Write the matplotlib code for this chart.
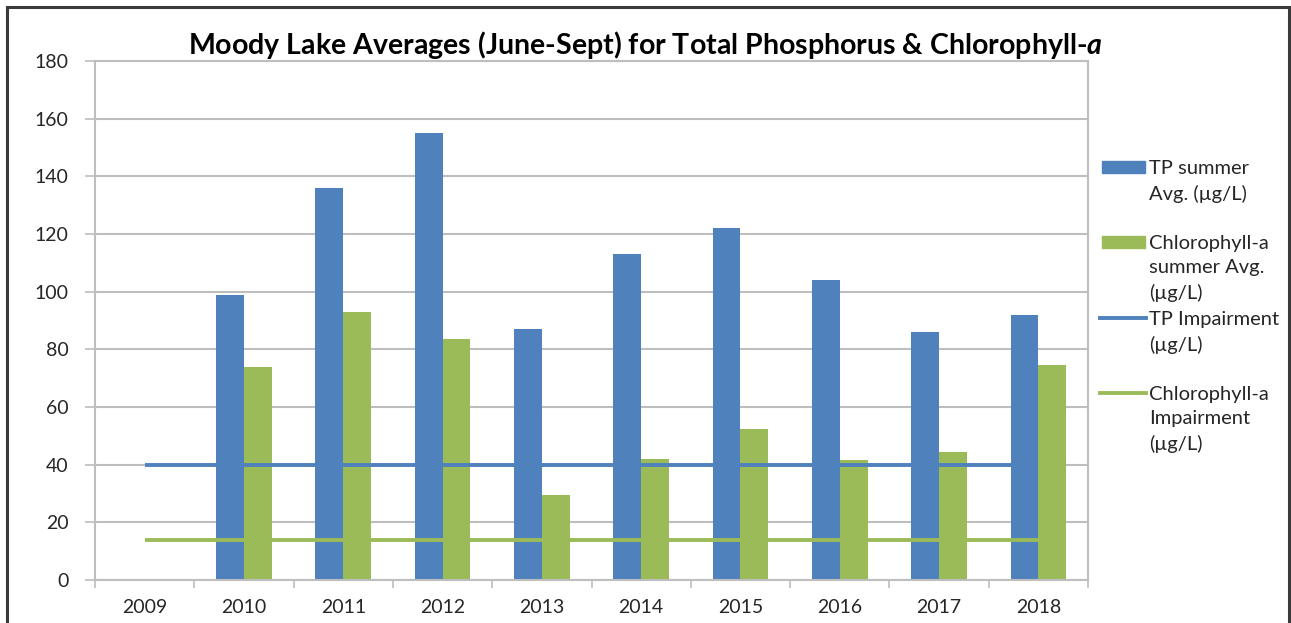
import matplotlib
matplotlib.use('Agg')
import matplotlib.pyplot as plt
import numpy as np
from matplotlib.patches import Rectangle
from matplotlib.lines import Line2D

plt.rcParams['font.family'] = ['Lato', 'DejaVu Sans']
plt.rcParams['mathtext.fontset'] = 'custom'
plt.rcParams['mathtext.it'] = 'Lato:italic:bold'
plt.rcParams['mathtext.rm'] = 'Lato:bold'

# data
years = ['2009', '2010', '2011', '2012', '2013', '2014', '2015', '2016', '2017', '2018']
tp_avg = [np.nan, 99, 136, 155, 87, 113, 122, 104, 86, 92]
chl_avg = [np.nan, 74, 93, 83.5, 29.5, 42, 52.5, 41.5, 44.5, 74.5]
tp_impair = [40] * 10
chl_impair = [14] * 10

blue = '#4F81BD'
green = '#9BBB59'
grid_c = '#BEBEBE'

W, H = 1291, 623
fig = plt.figure(figsize=(W / 100, H / 100), dpi=100)
ax = fig.add_axes([95 / W, 1 - 580 / H, (1088 - 95) / W, (580 - 61) / H])

x = np.arange(len(years))
bw = 0.28
ax.bar(x - bw / 2, tp_avg, bw, color=blue, zorder=2)
ax.bar(x + bw / 2, chl_avg, bw, color=green, zorder=2)
ax.plot(x, tp_impair, color=blue, lw=2.8, zorder=3, solid_capstyle='butt')
ax.plot(x, chl_impair, color=green, lw=2.8, zorder=3, solid_capstyle='butt')

ax.set_xlim(-0.5, len(years) - 0.5)
ax.set_ylim(0, 180)
ax.set_yticks(np.arange(0, 181, 20))
ax.set_xticks(x)
ax.set_xticklabels(years)
ax.set_xticks(np.arange(-0.5, len(years), 1), minor=True)
ax.tick_params(axis='x', which='major', length=0, pad=14, labelsize=14, colors='#262626')
ax.tick_params(axis='x', which='minor', length=6, width=1.2, color=grid_c, direction='out')
ax.tick_params(axis='y', length=7, width=1.2, color=grid_c, pad=12, labelsize=14,
               labelcolor='#262626')
ax.yaxis.grid(True, color=grid_c, lw=1.5, zorder=0)
ax.set_axisbelow(True)
for s in ax.spines.values():
    s.set_color(grid_c)
    s.set_linewidth(1.5)

# title with italic a
fig.text(645 / W, 1 - 45 / H, r'Moody Lake Averages (June-Sept) for Total Phosphorus & Chlorophyll-$\it{a}$',
         ha='center', va='center', fontsize=20.5, fontweight='bold', color='black')

# legend drawn entry by entry
leg_entries = [
    ('patch', blue, 'TP summer\nAvg. (µg/L)', 167),
    ('patch', green, 'Chlorophyll-a\nsummer Avg.\n(µg/L)', 242),
    ('line', blue, 'TP Impairment\n(µg/L)', 318),
    ('line', green, 'Chlorophyll-a\nImpairment\n(µg/L)', 393),
]
for kind, col, lab, yc in leg_entries:
    if kind == 'patch':
        fig.add_artist(Rectangle((1102 / W, 1 - (yc + 6) / H), 43 / W, 12 / H,
                                 transform=fig.transFigure, color=col))
    else:
        fig.add_artist(Line2D([1100 / W, 1146 / W], [1 - yc / H, 1 - yc / H],
                              transform=fig.transFigure, color=col, lw=2.8))
    fig.text(1149 / W, 1 - (yc - 7) / H, lab, ha='left', va='top', fontsize=14.5,
             linespacing=1.5, color='#262626')

# outer chart frame
fig.add_artist(Rectangle((7 / W, -0.05), (1289 - 7) / W, 1 - 7 / H + 0.05,
                         transform=fig.transFigure, fill=False, edgecolor='#3A3A3A', lw=2.2))

fig.savefig('out.png', dpi=100)
